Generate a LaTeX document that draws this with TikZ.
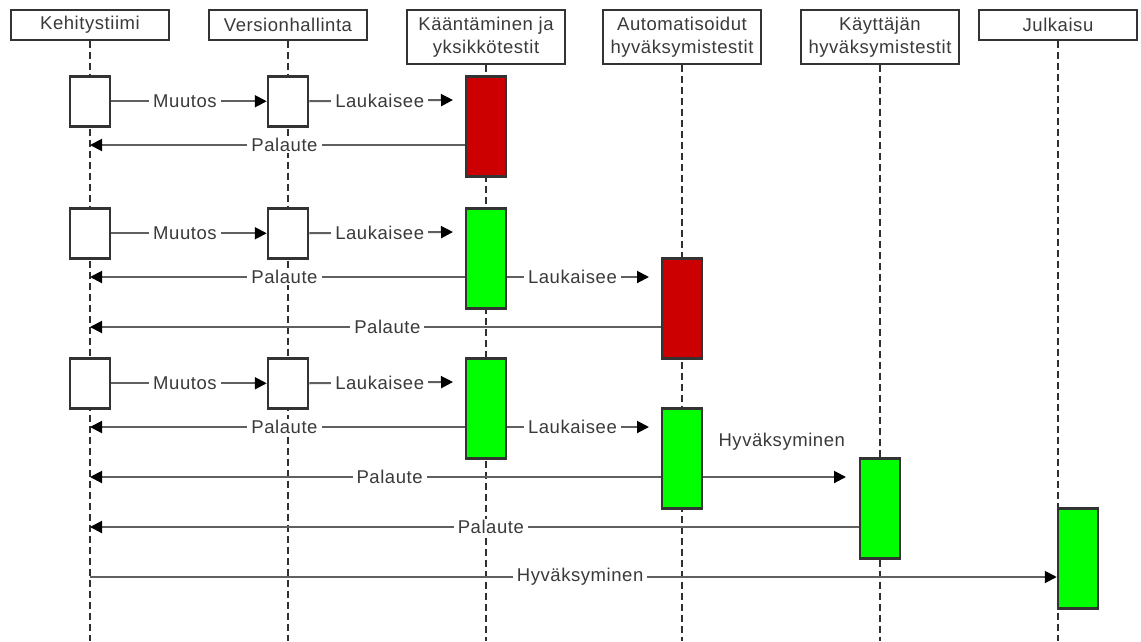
\documentclass[tikz,border=0pt]{standalone}
\usepackage{fontspec}
\setmainfont{Liberation Sans}
\newfontfamily\diafont[LetterSpace=3]{Liberation Sans}
\newcommand\lblfont{\diafont\fontsize{18.5}{23}\selectfont}
\usetikzlibrary{arrows.meta}

\definecolor{txt}{HTML}{3A3A3A}
\definecolor{bdr}{HTML}{333333}
\definecolor{msgc}{HTML}{606060}
\definecolor{lifec}{HTML}{303030}
\definecolor{failred}{HTML}{CC0000}
\definecolor{passgreen}{HTML}{00FF00}

\pgfdeclarelayer{bg}
\pgfsetlayers{bg,main}

\tikzset{
  head/.style={draw=bdr, line width=1.5pt, fill=white, minimum width=158pt,
    minimum height=30pt, align=center, font=\lblfont, text=txt, inner sep=0pt, anchor=north},
  twoline/.style={minimum height=54pt},
  act/.style={draw=bdr, line width=2.5pt, minimum width=40pt, inner sep=0pt, anchor=north},
  shortact/.style={act, fill=white, minimum height=50pt},
  failact/.style={act, fill=failred, minimum height=100pt},
  passact/.style={act, fill=passgreen, minimum height=100pt},
  life/.style={draw=lifec, line width=1.2pt, dash pattern=on 7pt off 4pt},
  msg/.style={draw=msgc, line width=2pt, -{Triangle[length=12pt,width=12pt,color=black]}},
  lbl/.style={fill=white, text=txt, font=\lblfont, inner xsep=4pt, inner ysep=1pt}
}

\begin{document}
\begin{tikzpicture}[x=1pt, y=-1pt]
\useasboundingbox (0,0) rectangle (1141,641);

% participants
\node[head] (hK) at (90,9) {Kehitystiimi};
\node[head] (hV) at (288,9) {Versionhallinta};
\node[head, twoline] (hC) at (486,9) {Kääntäminen ja\\yksikkötestit};
\node[head, twoline] (hA) at (682,9) {Automatisoidut\\hyväksymistestit};
\node[head, twoline] (hU) at (880,9) {Käyttäjän\\hyväksymistestit};
\node[head] (hJ) at (1058,9) {Julkaisu};

% lifelines
\begin{pgfonlayer}{bg}
  \foreach \h in {hK,hV,hC,hA,hU,hJ}
    \draw[life] (\h.south) -- (\h.south |- 0,641);
\end{pgfonlayer}

% round 1: build fails
\node[shortact] (k1) at (90,75) {};
\node[shortact] (v1) at (288,75) {};
\node[failact] (c1) at (486,75) {};

\draw[msg] (k1.east) -- node[lbl, pos=0.474] {Muutos} (v1.west);
\coordinate (l1) at (453,100);
\draw[msg] (v1.east) -- node[lbl, pos=0.49] {Laukaisee} (l1);
\coordinate (f1) at (90,145);
\draw[msg] (c1.west |- f1) -- node[lbl, pos=0.481] {Palaute} (f1);

% round 2: acceptance tests fail
\node[shortact] (k2) at (90,207) {};
\node[shortact] (v2) at (288,207) {};
\node[passact] (c2) at (486,207) {};
\node[failact] (a2) at (682,257) {};

\draw[msg] (k2.east) -- node[lbl, pos=0.474] {Muutos} (v2.west);
\coordinate (l2) at (453,232);
\draw[msg] (v2.east) -- node[lbl, pos=0.49] {Laukaisee} (l2);
\coordinate (f2) at (90,277);
\draw[msg] (c2.west |- f2) -- node[lbl, pos=0.481] {Palaute} (f2);
\coordinate (t2) at (649,277);
\draw[msg] (c2.east |- t2) -- node[lbl, pos=0.46] {Laukaisee} (t2);
\coordinate (g2) at (90,327);
\draw[msg] (a2.west |- g2) -- node[lbl, pos=0.479] {Palaute} (g2);

% round 3: everything passes, release
\node[shortact] (k3) at (90,357) {};
\node[shortact] (v3) at (288,357) {};
\node[passact] (c3) at (486,357) {};
\node[passact] (a3) at (682,407) {};
\node[passact] (u3) at (880,457) {};
\node[passact] (j3) at (1078,507) {};

\draw[msg] (k3.east) -- node[lbl, pos=0.474] {Muutos} (v3.west);
\coordinate (l3) at (453,382);
\draw[msg] (v3.east) -- node[lbl, pos=0.49] {Laukaisee} (l3);
\coordinate (f3) at (90,427);
\draw[msg] (c3.west |- f3) -- node[lbl, pos=0.481] {Palaute} (f3);
\coordinate (t3) at (649,427);
\draw[msg] (c3.east |- t3) -- node[lbl, pos=0.46] {Laukaisee} (t3);
\coordinate (h3) at (846,477);
\draw[msg] (a3.east |- h3) -- node[pos=0.55, yshift=35pt, text=txt, font=\lblfont] {Hyväksyminen} (h3);
\coordinate (g3) at (90,477);
\draw[msg] (a3.west |- g3) -- node[lbl, pos=0.475] {Palaute} (g3);
\coordinate (e3) at (90,527);
\draw[msg] (u3.west |- e3) -- node[lbl, pos=0.4785] {Palaute} (e3);
\coordinate (s3) at (90,577);
\draw[msg] (s3) -- node[lbl, pos=0.507] {Hyväksyminen} (j3.west |- s3);
\end{tikzpicture}
\end{document}
